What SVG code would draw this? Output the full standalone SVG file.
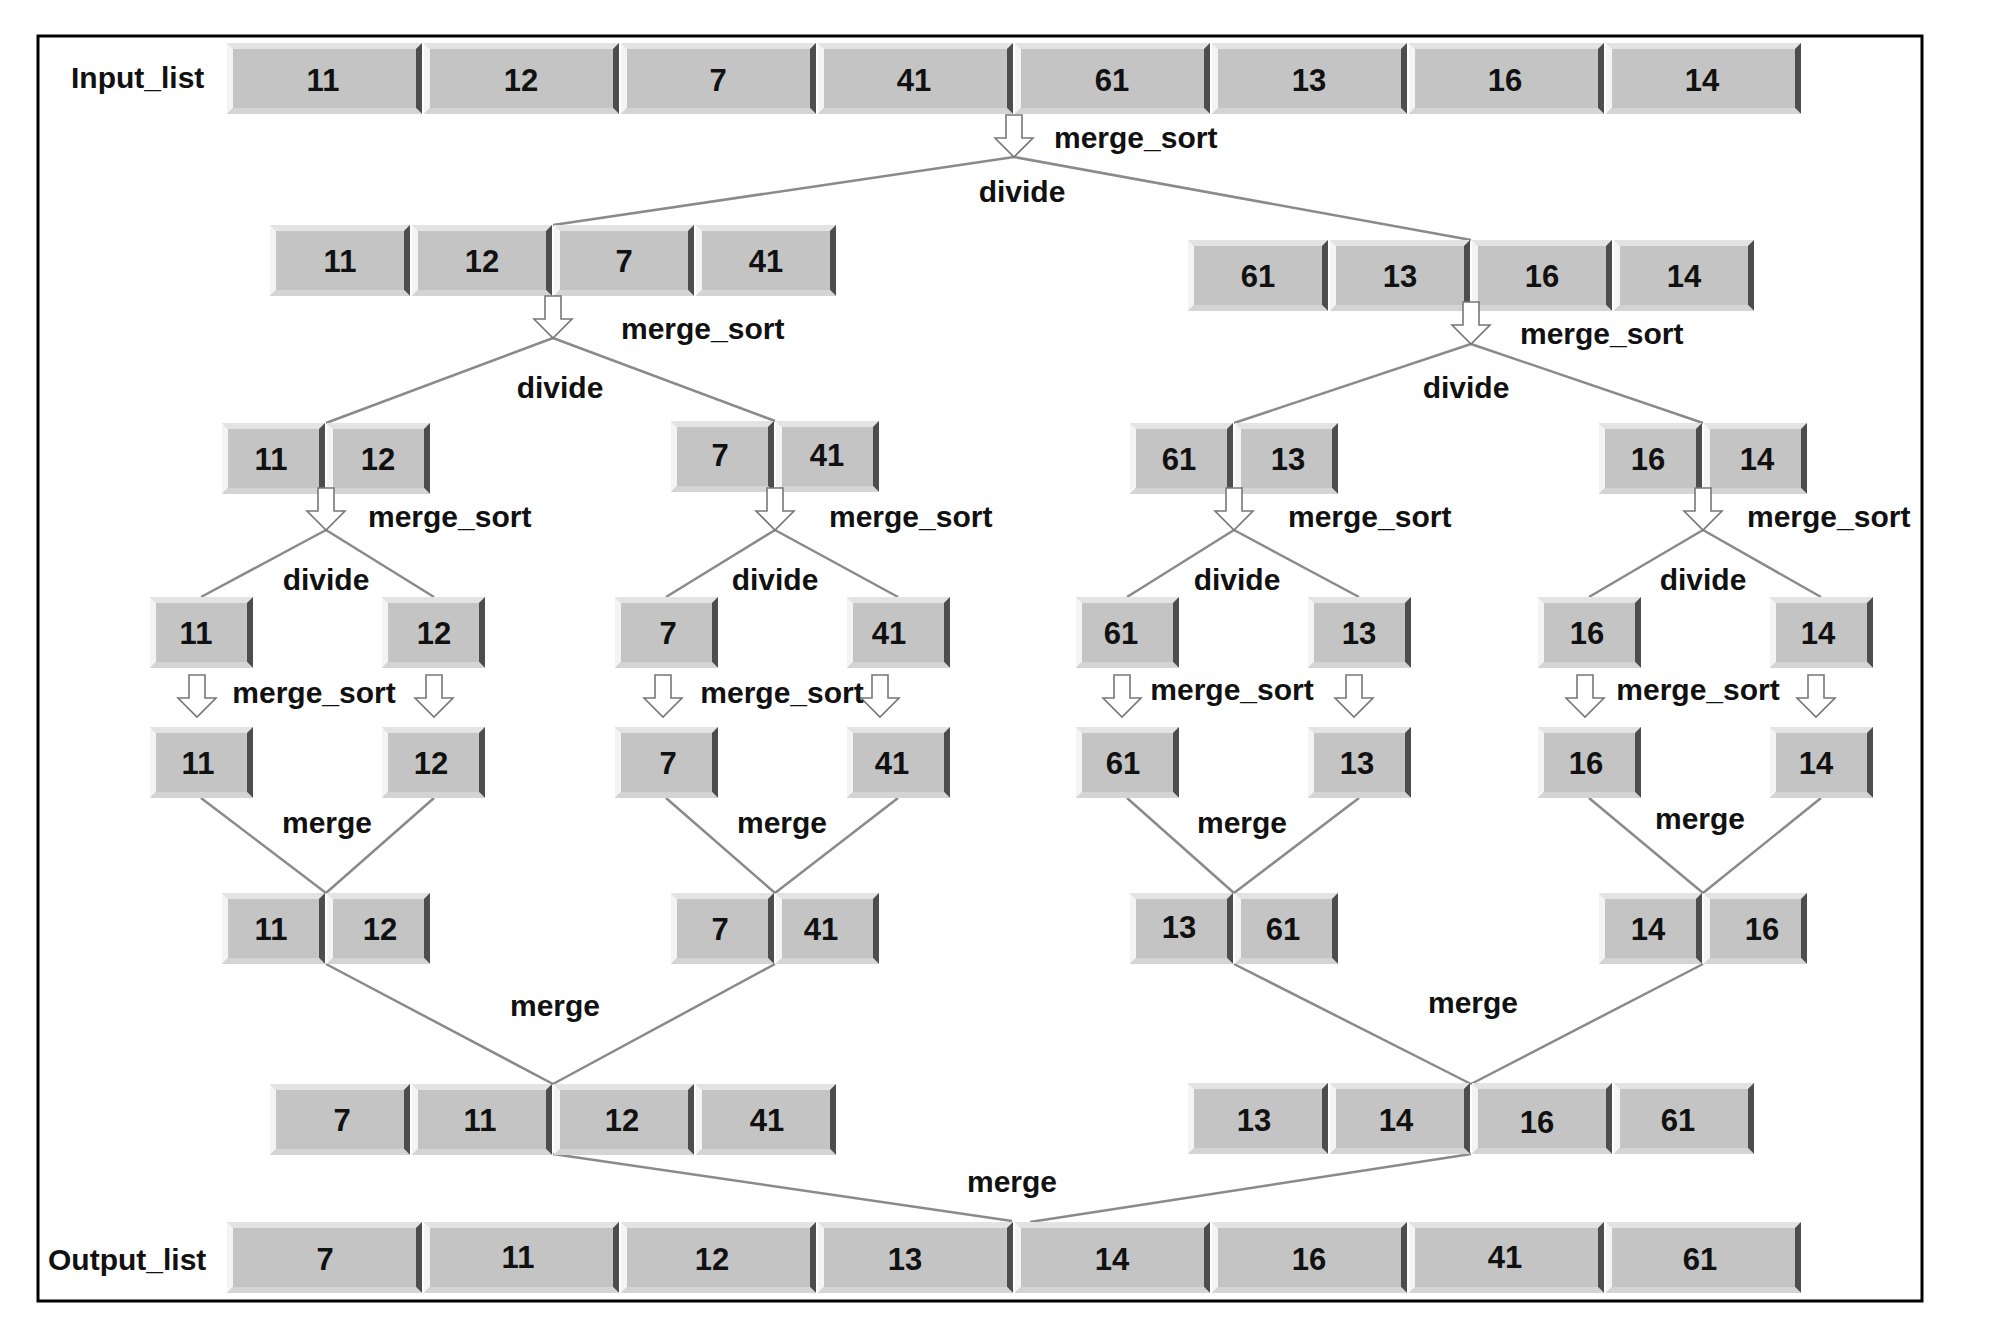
<svg xmlns="http://www.w3.org/2000/svg" xmlns:xlink="http://www.w3.org/1999/xlink" width="1998" height="1338" viewBox="0 0 1998 1338">
<style>
.t{font-family:"Liberation Sans",Arial,sans-serif;font-weight:bold;font-size:30px;fill:#111}
.n{font-family:"Liberation Sans",Arial,sans-serif;font-weight:bold;font-size:31px;fill:#111;text-anchor:middle}
.m{text-anchor:middle}
.ln{stroke:#8a8a8a;stroke-width:2.5;fill:none}
.ar{fill:#fff;stroke:#777;stroke-width:1.6}
</style>
<defs>
<symbol id="b195" width="195" height="71" overflow="visible">
<rect width="195" height="71" fill="#c4c4c4"/>
<polygon points="0,0 195,0 189,6 6,6" fill="#e3e3e3"/>
<polygon points="0,0 6,6 6,65 0,71" fill="#f4f4f4"/>
<polygon points="195,0 195,71 189,65 189,6" fill="#4d4d4d"/>
<polygon points="0,71 6,65 189,65 195,71" fill="#d4d4d4"/>
</symbol>
<symbol id="b140" width="140" height="71" overflow="visible">
<rect width="140" height="71" fill="#c4c4c4"/>
<polygon points="0,0 140,0 134,6 6,6" fill="#e3e3e3"/>
<polygon points="0,0 6,6 6,65 0,71" fill="#f4f4f4"/>
<polygon points="140,0 140,71 134,65 134,6" fill="#4d4d4d"/>
<polygon points="0,71 6,65 134,65 140,71" fill="#d4d4d4"/>
</symbol>
<symbol id="b103" width="103" height="71" overflow="visible">
<rect width="103" height="71" fill="#c4c4c4"/>
<polygon points="0,0 103,0 97,6 6,6" fill="#e3e3e3"/>
<polygon points="0,0 6,6 6,65 0,71" fill="#f4f4f4"/>
<polygon points="103,0 103,71 97,65 97,6" fill="#4d4d4d"/>
<polygon points="0,71 6,65 97,65 103,71" fill="#d4d4d4"/>
</symbol>
<path id="arrow" d="M-8,0 L8,0 L8,23 L19,23 L0,42 L-19,23 L-8,23 Z"/>
</defs>
<rect width="1998" height="1338" fill="#fff"/>
<rect x="38" y="36" width="1884" height="1265" fill="none" stroke="#000" stroke-width="3"/>

<g id="connectors">
<line class="ln" x1="1014" y1="157" x2="553" y2="225"/>
<line class="ln" x1="1014" y1="157" x2="1471" y2="240" stroke="#6f7582"/>
<line class="ln" x1="553" y1="338" x2="326" y2="423"/>
<line class="ln" x1="553" y1="338" x2="775" y2="421"/>
<line class="ln" x1="1471" y1="344" x2="1234" y2="423"/>
<line class="ln" x1="1471" y1="344" x2="1703" y2="423"/>
<line class="ln" x1="326" y1="530" x2="201" y2="597"/>
<line class="ln" x1="326" y1="530" x2="434" y2="597"/>
<line class="ln" x1="775" y1="530" x2="666" y2="597"/>
<line class="ln" x1="775" y1="530" x2="898" y2="597"/>
<line class="ln" x1="1234" y1="530" x2="1127" y2="597"/>
<line class="ln" x1="1234" y1="530" x2="1359" y2="597"/>
<line class="ln" x1="1703" y1="530" x2="1589" y2="597"/>
<line class="ln" x1="1703" y1="530" x2="1821" y2="597"/>
<line class="ln" x1="201" y1="798" x2="326" y2="893"/>
<line class="ln" x1="434" y1="798" x2="326" y2="893"/>
<line class="ln" x1="666" y1="798" x2="775" y2="893"/>
<line class="ln" x1="898" y1="798" x2="775" y2="893"/>
<line class="ln" x1="1127" y1="798" x2="1234" y2="893"/>
<line class="ln" x1="1359" y1="798" x2="1234" y2="893"/>
<line class="ln" x1="1589" y1="798" x2="1703" y2="893"/>
<line class="ln" x1="1821" y1="798" x2="1703" y2="893"/>
<line class="ln" x1="326" y1="964" x2="553" y2="1084"/>
<line class="ln" x1="775" y1="964" x2="553" y2="1084"/>
<line class="ln" x1="1234" y1="964" x2="1471" y2="1084"/>
<line class="ln" x1="1703" y1="964" x2="1471" y2="1084"/>
<line class="ln" x1="553" y1="1154" x2="1012" y2="1221"/>
<line class="ln" x1="1471" y1="1154" x2="1030" y2="1222"/>
</g>

<g id="input_list">
<text class="t" x="71" y="88">Input_list</text>
<use href="#b195" x="227" y="43"/><use href="#b195" x="424" y="43"/><use href="#b195" x="621" y="43"/><use href="#b195" x="818" y="43"/>
<use href="#b195" x="1015" y="43"/><use href="#b195" x="1212" y="43"/><use href="#b195" x="1409" y="43"/><use href="#b195" x="1606" y="43"/>
<text class="n" x="323" y="91">11</text><text class="n" x="521" y="91">12</text><text class="n" x="718" y="91">7</text><text class="n" x="914" y="91">41</text>
<text class="n" x="1112" y="91">61</text><text class="n" x="1309" y="91">13</text><text class="n" x="1505" y="91">16</text><text class="n" x="1702" y="91">14</text>
</g>

<g id="split0">
<use href="#arrow" x="1014" y="115" class="ar"/>
<text class="t" x="1054" y="148">merge_sort</text>
<text class="t m" x="1022" y="202">divide</text>
</g>

<g id="l1_left">
<use href="#b140" x="270" y="225"/><use href="#b140" x="412" y="225"/><use href="#b140" x="554" y="225"/><use href="#b140" x="696" y="225"/>
<text class="n" x="340" y="272">11</text><text class="n" x="482" y="272">12</text><text class="n" x="624" y="272">7</text><text class="n" x="766" y="272">41</text>
<use href="#arrow" x="553" y="296" class="ar"/>
<text class="t" x="621" y="339">merge_sort</text>
<text class="t m" x="560" y="398">divide</text>
</g>

<g id="l1_right">
<use href="#b140" x="1188" y="240"/><use href="#b140" x="1330" y="240"/><use href="#b140" x="1472" y="240"/><use href="#b140" x="1614" y="240"/>
<text class="n" x="1258" y="287">61</text><text class="n" x="1400" y="287">13</text><text class="n" x="1542" y="287">16</text><text class="n" x="1684" y="287">14</text>
<use href="#arrow" x="1471" y="302" class="ar"/>
<text class="t" x="1520" y="344">merge_sort</text>
<text class="t m" x="1466" y="398">divide</text>
</g>

<g id="l2_a">
<use href="#b103" x="222" y="423"/><use href="#b103" x="327" y="423"/>
<text class="n" x="271" y="470">11</text><text class="n" x="378" y="470">12</text>
<use href="#arrow" x="326" y="488" class="ar"/>
<text class="t" x="368" y="527">merge_sort</text>
<text class="t m" x="326" y="590">divide</text>
</g>
<g id="l2_b">
<use href="#b103" x="671" y="421"/><use href="#b103" x="776" y="421"/>
<text class="n" x="720" y="466">7</text><text class="n" x="827" y="466">41</text>
<use href="#arrow" x="775" y="488" class="ar"/>
<text class="t" x="829" y="527">merge_sort</text>
<text class="t m" x="775" y="590">divide</text>
</g>
<g id="l2_c">
<use href="#b103" x="1130" y="423"/><use href="#b103" x="1235" y="423"/>
<text class="n" x="1179" y="470">61</text><text class="n" x="1288" y="470">13</text>
<use href="#arrow" x="1234" y="488" class="ar"/>
<text class="t" x="1288" y="527">merge_sort</text>
<text class="t m" x="1237" y="590">divide</text>
</g>
<g id="l2_d">
<use href="#b103" x="1599" y="423"/><use href="#b103" x="1704" y="423"/>
<text class="n" x="1648" y="470">16</text><text class="n" x="1757" y="470">14</text>
<use href="#arrow" x="1703" y="488" class="ar"/>
<text class="t" x="1747" y="527">merge_sort</text>
<text class="t m" x="1703" y="590">divide</text>
</g>

<g id="l3">
<use href="#b103" x="150" y="597"/><use href="#b103" x="382" y="597"/><use href="#b103" x="615" y="597"/><use href="#b103" x="847" y="597"/>
<use href="#b103" x="1076" y="597"/><use href="#b103" x="1308" y="597"/><use href="#b103" x="1538" y="597"/><use href="#b103" x="1770" y="597"/>
<text class="n" x="196" y="644">11</text><text class="n" x="434" y="644">12</text><text class="n" x="668" y="644">7</text><text class="n" x="889" y="644">41</text>
<text class="n" x="1121" y="644">61</text><text class="n" x="1359" y="644">13</text><text class="n" x="1587" y="644">16</text><text class="n" x="1818" y="644">14</text>
</g>

<g id="ms3">
<use href="#arrow" x="197" y="675" class="ar"/><use href="#arrow" x="434" y="675" class="ar"/>
<use href="#arrow" x="663" y="675" class="ar"/><use href="#arrow" x="880" y="675" class="ar"/>
<use href="#arrow" x="1122" y="675" class="ar"/><use href="#arrow" x="1354" y="675" class="ar"/>
<use href="#arrow" x="1585" y="675" class="ar"/><use href="#arrow" x="1816" y="675" class="ar"/>
<text class="t m" x="314" y="703">merge_sort</text><text class="t m" x="782" y="703">merge_sort</text>
<text class="t m" x="1232" y="700">merge_sort</text><text class="t m" x="1698" y="700">merge_sort</text>
</g>

<g id="l4">
<use href="#b103" x="150" y="727"/><use href="#b103" x="382" y="727"/><use href="#b103" x="615" y="727"/><use href="#b103" x="847" y="727"/>
<use href="#b103" x="1076" y="727"/><use href="#b103" x="1308" y="727"/><use href="#b103" x="1538" y="727"/><use href="#b103" x="1770" y="727"/>
<text class="n" x="198" y="774">11</text><text class="n" x="431" y="774">12</text><text class="n" x="668" y="774">7</text><text class="n" x="892" y="774">41</text>
<text class="n" x="1123" y="774">61</text><text class="n" x="1357" y="774">13</text><text class="n" x="1586" y="774">16</text><text class="n" x="1816" y="774">14</text>
<text class="t m" x="327" y="833">merge</text><text class="t m" x="782" y="833">merge</text>
<text class="t m" x="1242" y="833">merge</text><text class="t m" x="1700" y="829">merge</text>
</g>

<g id="l5_a">
<use href="#b103" x="222" y="893"/><use href="#b103" x="327" y="893"/>
<text class="n" x="271" y="940">11</text><text class="n" x="380" y="940">12</text>
</g>
<g id="l5_b">
<use href="#b103" x="671" y="893"/><use href="#b103" x="776" y="893"/>
<text class="n" x="720" y="940">7</text><text class="n" x="821" y="940">41</text>
</g>
<g id="l5_c">
<use href="#b103" x="1130" y="893"/><use href="#b103" x="1235" y="893"/>
<text class="n" x="1179" y="938">13</text><text class="n" x="1283" y="940">61</text>
</g>
<g id="l5_d">
<use href="#b103" x="1599" y="893"/><use href="#b103" x="1704" y="893"/>
<text class="n" x="1648" y="940">14</text><text class="n" x="1762" y="940">16</text>
</g>
<text class="t m" x="555" y="1016">merge</text>
<text class="t m" x="1473" y="1013">merge</text>

<g id="l6_left">
<use href="#b140" x="270" y="1084"/><use href="#b140" x="412" y="1084"/><use href="#b140" x="554" y="1084"/><use href="#b140" x="696" y="1084"/>
<text class="n" x="342" y="1131">7</text><text class="n" x="480" y="1131">11</text><text class="n" x="622" y="1131">12</text><text class="n" x="767" y="1131">41</text>
</g>
<g id="l6_right">
<use href="#b140" x="1188" y="1083"/><use href="#b140" x="1330" y="1083"/><use href="#b140" x="1472" y="1083"/><use href="#b140" x="1614" y="1083"/>
<text class="n" x="1254" y="1131">13</text><text class="n" x="1396" y="1131">14</text><text class="n" x="1537" y="1133">16</text><text class="n" x="1678" y="1131">61</text>
</g>
<text class="t m" x="1012" y="1192">merge</text>

<g id="output_list">
<text class="t" x="48" y="1270">Output_list</text>
<use href="#b195" x="227" y="1222"/><use href="#b195" x="424" y="1222"/><use href="#b195" x="621" y="1222"/><use href="#b195" x="818" y="1222"/>
<use href="#b195" x="1015" y="1222"/><use href="#b195" x="1212" y="1222"/><use href="#b195" x="1409" y="1222"/><use href="#b195" x="1606" y="1222"/>
<text class="n" x="325" y="1270">7</text><text class="n" x="518" y="1268">11</text><text class="n" x="712" y="1270">12</text><text class="n" x="905" y="1270">13</text>
<text class="n" x="1112" y="1270">14</text><text class="n" x="1309" y="1270">16</text><text class="n" x="1505" y="1268">41</text><text class="n" x="1700" y="1270">61</text>
</g>
</svg>
